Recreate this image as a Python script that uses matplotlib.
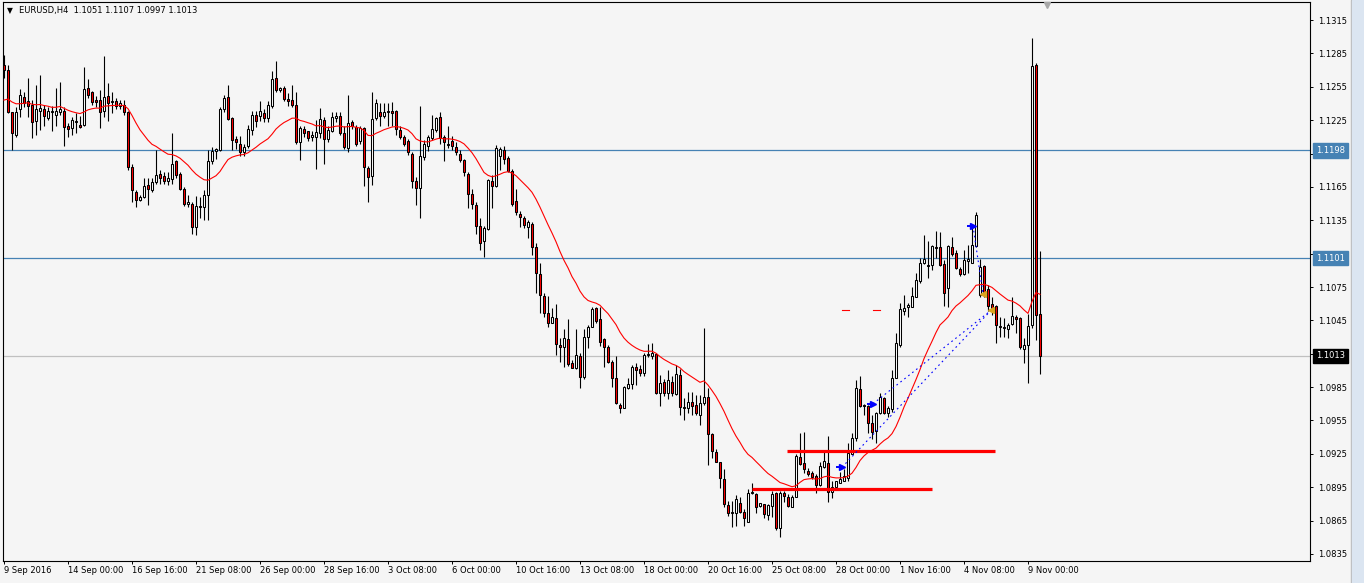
import numpy as np
import matplotlib
matplotlib.use('Agg')
import matplotlib.pyplot as plt
from matplotlib.transforms import blended_transform_factory
from matplotlib.patches import Rectangle

# ---- data: EURUSD H4 candles, prices in pips (x 0.0001) ----
opens = [
    11275,11270,11232,11212,11235,11246,11242,11239,11224,11233,11235,11227,11232,11230,11232,11233,11220,11218,11223,11221,
    11221,11254,11250,11243,11243,11233,11247,11241,11242,11238,11239,11232,11183,11160,11153,11156,11167,11162,11169,11177,
    11175,11170,11172,11188,11177,11163,11150,11150,11129,11148,11147,11158,11188,11197,11198,11235,11246,11227,11208,11204,
    11196,11202,11216,11230,11229,11231,11227,11238,11263,11252,11254,11244,11243,11239,11205,11217,11215,11210,11210,11213,
    11225,11208,11215,11227,11229,11213,11200,11223,11219,11206,11218,11182,11175,11227,11232,11229,11232,11233,11233,11216,
    11210,11206,11195,11170,11164,11192,11202,11209,11216,11228,11210,11204,11206,11201,11195,11189,11177,11159,11149,11130,
    11116,11127,11170,11166,11193,11198,11191,11179,11152,11141,11137,11129,11132,11111,11087,11067,11052,11043,11047,11023,
    11021,11028,11007,11002,11013,10994,11030,11039,11056,11046,11028,11021,11008,10993,10969,10966,10984,10988,11003,11001,
    10998,11014,11013,11015,10980,10990,10980,10990,10979,10996,10967,10966,10972,10969,10960,10971,10976,10943,10927,10918,
    10902,10879,10872,10872,10881,10873,10864,10890,10889,10878,10880,10870,10878,10890,10858,10890,10886,10877,10886,10922,
    10917,10910,10908,10905,10897,10913,10917,10891,10895,10899,10901,10903,10925,10939,10983,10969,10968,10953,10946,10962,
    10975,10962,10965,10993,11023,11053,11057,11057,11066,11080,11097,11095,11095,11111,11111,11096,11074,11111,11106,11091,
    11087,11098,11097,11112,11068,11094,11073,11060,11058,11040,11039,11037,11042,11048,11047,11019,11023,11041,11275,11051]
highs = [
    11284,11275,11232,11237,11253,11250,11263,11243,11257,11266,11239,11237,11238,11254,11259,11237,11222,11228,11231,11229,
    11273,11262,11251,11247,11252,11283,11258,11250,11245,11243,11243,11233,11186,11162,11158,11173,11173,11173,11198,11180,
    11178,11178,11213,11189,11178,11165,11158,11151,11157,11156,11162,11198,11201,11200,11237,11248,11257,11228,11211,11211,
    11204,11221,11233,11233,11242,11235,11242,11269,11278,11255,11256,11249,11257,11250,11220,11220,11215,11215,11225,11236,
    11228,11220,11232,11232,11232,11220,11248,11225,11221,11220,11219,11184,11250,11244,11240,11240,11240,11241,11234,11220,
    11212,11208,11196,11174,11238,11207,11212,11230,11228,11232,11212,11220,11211,11205,11198,11190,11178,11163,11151,11137,
    11130,11172,11176,11203,11201,11202,11193,11181,11163,11143,11139,11135,11133,11115,11097,11070,11067,11056,11060,11029,
    11037,11046,11009,11037,11016,11037,11041,11057,11057,11057,11029,11023,11009,11013,10971,10986,10993,11005,11007,11005,
    11016,11024,11025,11016,10996,10992,11000,10995,11005,11001,10975,10981,10981,10978,10978,11038,10984,10944,10929,10918,
    10911,10883,10883,10888,10886,10875,10893,10899,10890,10881,10880,10880,10892,10891,10892,10892,10889,10888,10925,10944,
    10945,10912,10910,10907,10918,10928,10941,10901,10901,10909,10911,10935,10944,10991,10995,10970,10969,10960,10963,10980,
    10976,10968,11000,11034,11061,11068,11061,11075,11088,11101,11122,11116,11113,11125,11124,11099,11113,11120,11108,11093,
    11108,11113,11129,11142,11100,11095,11077,11066,11059,11048,11047,11043,11066,11050,11048,11029,11051,11299,11276,11107]
lows = [
    11263,11231,11198,11210,11228,11237,11228,11209,11212,11216,11220,11225,11215,11220,11230,11202,11210,11212,11213,11218,
    11220,11245,11239,11237,11218,11228,11224,11231,11235,11235,11230,11180,11151,11147,11152,11155,11149,11160,11168,11168,
    11168,11167,11168,11173,11162,11148,11147,11123,11122,11137,11135,11135,11186,11190,11197,11232,11225,11198,11199,11193,
    11193,11200,11212,11219,11224,11223,11223,11236,11250,11250,11242,11238,11237,11204,11189,11210,11206,11206,11181,11209,
    11186,11205,11214,11223,11212,11199,11196,11217,11202,11204,11166,11151,11167,11225,11220,11227,11220,11220,11212,11208,
    11202,11194,11164,11149,11137,11189,11197,11207,11214,11204,11188,11200,11198,11194,11187,11175,11146,11145,11123,11108,
    11102,11126,11146,11165,11180,11186,11178,11148,11140,11129,11128,11119,11104,11070,11052,11048,11039,11043,11014,11008,
    11003,11004,11002,11001,10984,10992,11020,11039,11043,11022,11003,11007,10985,10970,10962,10966,10983,10983,10987,10995,
    10995,11012,11010,10979,10968,10977,10974,10977,10978,10960,10955,10962,10960,10960,10951,10969,10915,10921,10918,10894,
    10877,10869,10859,10860,10872,10860,10864,10889,10872,10877,10867,10866,10868,10857,10850,10882,10877,10877,10886,10915,
    10908,10905,10902,10890,10896,10912,10882,10885,10895,10899,10901,10901,10925,10937,10967,10960,10944,10938,10935,10961,
    10961,10958,10963,10993,11021,11050,11048,11057,11066,11079,11096,11083,11090,11101,11094,11058,11057,11103,11091,11085,
    11086,11088,11097,11111,11066,11066,11053,11050,11025,11030,11030,11029,11041,11034,11019,11007,10989,11038,11027,10997]
closes = [
    11270,11232,11213,11232,11248,11240,11238,11223,11235,11236,11229,11233,11233,11233,11235,11219,11217,11225,11224,11219,
    11253,11248,11241,11241,11232,11246,11240,11242,11238,11240,11232,11183,11162,11153,11156,11166,11163,11169,11176,11173,
    11170,11173,11186,11176,11163,11150,11151,11129,11148,11147,11158,11188,11197,11199,11235,11245,11226,11207,11205,11196,
    11201,11217,11230,11224,11233,11227,11239,11262,11252,11254,11244,11242,11239,11205,11218,11213,11209,11212,11214,11226,
    11208,11216,11228,11229,11213,11201,11222,11220,11204,11218,11183,11174,11226,11240,11229,11232,11233,11231,11217,11210,
    11204,11196,11170,11164,11193,11204,11210,11217,11227,11209,11205,11203,11202,11196,11189,11178,11159,11150,11130,11115,
    11128,11171,11166,11200,11199,11190,11179,11150,11142,11138,11131,11133,11111,11088,11068,11052,11043,11048,11024,11021,
    11029,11006,11002,11014,10994,11030,11039,11055,11044,11026,11021,11008,10993,10971,10966,10985,10988,11003,11000,10998,
    11014,11015,11016,10980,10989,10980,10991,10980,10997,10967,10966,10972,10968,10962,10971,10976,10943,10928,10918,10903,
    10880,10872,10873,10884,10873,10867,10890,10891,10877,10881,10871,10879,10889,10858,10890,10887,10878,10886,10923,10916,
    10911,10907,10904,10897,10914,10919,10891,10895,10901,10902,10905,10926,10939,10984,10968,10968,10953,10945,10962,10976,
    10962,10966,10993,11025,11055,11056,11059,11067,11081,11097,11100,11094,11112,11110,11095,11070,11112,11105,11092,11087,
    11099,11100,11113,11140,11093,11069,11058,11056,11041,11039,11038,11041,11049,11046,11021,11023,11040,11274,11050,11013]

time_labels = ["9 Sep 2016", "14 Sep 00:00", "16 Sep 16:00", "21 Sep 08:00", "26 Sep 00:00",
               "28 Sep 16:00", "3 Oct 08:00", "6 Oct 00:00", "10 Oct 16:00", "13 Oct 08:00",
               "18 Oct 00:00", "20 Oct 16:00", "25 Oct 08:00", "28 Oct 00:00", "1 Nov 16:00",
               "4 Nov 08:00", "9 Nov 00:00"]
time_label_bars = [0, 16, 32, 48, 64, 80, 96, 112, 128, 144, 160, 176, 192, 208, 224, 240, 256]
price_ticks = [1.0835, 1.0865, 1.0895, 1.0925, 1.0955, 1.0985, 1.1015, 1.1045, 1.1075,
               1.1105, 1.1135, 1.1165, 1.1195, 1.1225, 1.1255, 1.1285, 1.1315]
blue_levels = [1.1198, 1.1101]
bid_price = 1.1013
ma_seed = 1.1240          # MA value before the first visible bar
# drawn levels: (start bar, end bar, price)
red_levels = [(195.75, 247.75, 1.0928), (187.0, 232.0, 1.0893)]
# trade history: buy entries, exits, and which exit each entry joins
buy_bars = [209.5, 217.25, 242.25]
buy_prices = [1.0913, 1.0970, 1.1130]
exit_bars = [244.75, 246.75]
exit_prices = [1.1069, 1.1054]
trade_exit = [1, 1, 0]
tp_price = 1.1054

O = np.array(opens) / 1e4
H = np.array(highs) / 1e4
L = np.array(lows) / 1e4
C = np.array(closes) / 1e4
n = len(C)
x = np.arange(n)

# moving average (EMA 21 of median price)
med = (H + L) / 2
alpha = 2 / 22
ma = np.empty(n)
prev = ma_seed
for i in range(n):
    prev = prev + alpha * (med[i] - prev)
    ma[i] = prev

BG = '#f5f5f5'
W, Hpx = 1364, 583
fig = plt.figure(figsize=(W / 100, Hpx / 100), dpi=100)
fig.patch.set_facecolor(BG)
ax = fig.add_axes([3 / W, 1 - 561 / Hpx, (1310 - 3) / W, (561 - 2) / Hpx])
ax.set_facecolor(BG)
ax.set_xlim(-0.25, 326.5)
ax.set_ylim(1.08287, 1.13312)

# horizontal lines
for lv in blue_levels:
    ax.axhline(lv, color='#4682b4', lw=0.9, zorder=1)
ax.axhline(bid_price, color='#c0c0c0', lw=0.9, zorder=1)

# candles
up = C >= O
ax.vlines(x, L, H, color='black', lw=0.8, zorder=2)
body_lo = np.minimum(O, C)
body_h = np.maximum(np.abs(C - O), 0.00004)
ax.bar(x[up], body_h[up], bottom=body_lo[up], width=0.55, color='white',
       edgecolor='black', linewidth=0.75, zorder=3)
ax.bar(x[~up], body_h[~up], bottom=body_lo[~up], width=0.55, color='#ff0000',
       edgecolor='black', linewidth=0.75, zorder=3)

# moving average
ax.plot(x, ma, color='#ff0000', lw=0.8, zorder=4)

# drawn red levels
for b0, b1, p in red_levels:
    ax.plot([b0, b1], [p, p], color='#ff0000', lw=2.3, solid_capstyle='butt', zorder=5)

# trade lines, take-profit marks and arrows
for b, p, k in zip(buy_bars, buy_prices, trade_exit):
    ax.plot([b, exit_bars[k]], [p, exit_prices[k]], color='#0000ff', lw=0.8,
            ls=(0, (1.5, 3)), zorder=5)
for b in buy_bars[:2]:
    ax.plot([b, b + 1.75], [tp_price, tp_price], color='#ff0000', lw=0.8, zorder=5)
ax.plot(buy_bars, buy_prices, ls='none', marker='>', ms=4.5, color='#0000ff',
        markeredgecolor='#0000ff', zorder=6)
ax.plot([b - 0.8 for b in buy_bars], buy_prices, ls='none', marker='_', ms=4, mew=1.4,
        color='#0000ff', zorder=6)
ax.plot(exit_bars, exit_prices, ls='none', marker='<', ms=4, color='#daa520',
        markeredgecolor='#daa520', zorder=6)

# chart shift marker
ax.plot([260.75], [1.13285], marker='v', ms=5, color='#a8a8a8', clip_on=False, zorder=6)

# axes styling
for s in ax.spines.values():
    s.set_color('black')
    s.set_linewidth(0.8)
ax.yaxis.tick_right()
ax.set_yticks(price_ticks)
# labels under the 1.1198 / 1.1101 boxes are hidden
hidden = {1.1195, 1.1105}
ax.set_yticklabels(["" if p in hidden else f"{p:.4f}" for p in price_ticks])
ax.tick_params(axis='y', direction='out', length=2.5, width=0.7, pad=3, labelsize=6,
               colors='black')
ax.set_xticks(time_label_bars)
ax.set_xticklabels(time_labels, ha='left')
ax.tick_params(axis='x', direction='out', length=2.5, width=0.7, pad=1, labelsize=6,
               colors='black')

# price boxes on the scale
tr = blended_transform_factory(ax.transAxes, ax.transData)
for lv, fc in [(1.1198, '#4682b4'), (1.1101, '#4682b4'), (1.1013, '#000000')]:
    ax.text(1.0045, lv, f"{lv:.4f}", transform=tr, fontsize=6, color='white',
            va='center', ha='left', clip_on=False, zorder=10,
            bbox=dict(boxstyle='square,pad=0.35', fc=fc, ec=fc))

# header
fig.text(7 / W, 1 - 11 / Hpx, "\u25bc", fontsize=5.5, va='center', ha='left', color='black')
fig.text(19 / W, 1 - 11 / Hpx, "EURUSD,H4  1.1051 1.1107 1.0997 1.1013",
         fontsize=6, va='center', ha='left', color='black')

# window edge
fig.patches.append(Rectangle((1351 / W, 0), 1 / W, 1, transform=fig.transFigure,
                             color='#b8b8b8', zorder=0))
fig.patches.append(Rectangle((1352 / W, 0), 12 / W, 1, transform=fig.transFigure,
                             color='#dbe5f1', zorder=0))

fig.savefig('out.png', dpi=100, facecolor=BG)
